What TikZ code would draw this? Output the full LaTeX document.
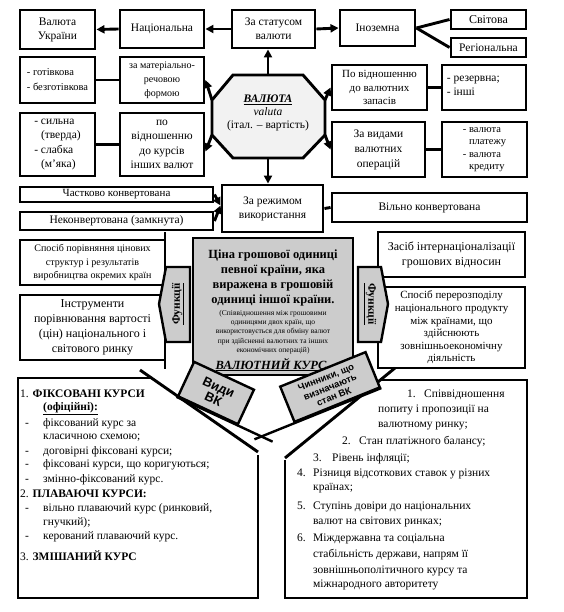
\documentclass[tikz,border=0pt]{standalone}
\usepackage{fontspec}
\setmainfont{Liberation Serif}
\newfontfamily\arl{Liberation Sans}
\usetikzlibrary{arrows.meta,calc}
\definecolor{gfill}{gray}{0.80}
\definecolor{ofill}{gray}{0.95}
\begin{document}
\begin{tikzpicture}[x=1pt,y=-1pt,
 bx/.style={draw, line width=2.9pt, fill=white, inner sep=1pt, align=center, font=\fontsize{11.5}{14}\selectfont},
 ln/.style={line width=2.9pt},
 ar/.style={line width=2.9pt, -{Triangle[length=8pt,width=8pt]}},
 lt/.style={anchor=base west, inner sep=0pt, font=\fontsize{11.5}{13}\selectfont},
 tag/.style={draw, line width=2.4pt, fill=gfill, inner sep=1pt, align=center},
]
\useasboundingbox (0,0) rectangle (563,612);

% ---- top row
\node[bx, minimum width=75pt, minimum height=39pt] (vu) at (57.5,29.5) {Валюта\\України};
\node[bx, minimum width=84pt, minimum height=38pt] (nat) at (162,29) {Національна};
\node[bx, minimum width=83pt, minimum height=38pt] (zs) at (273.5,29) {За статусом\\валюти};
\node[bx, minimum width=75pt, minimum height=36pt] (ino) at (377.5,28) {Іноземна};
\node[bx, minimum width=75pt, minimum height=19pt, font=\fontsize{12}{13}\selectfont] (sv) at (488.5,19.5) {Світова};
\node[bx, minimum width=75pt, minimum height=19pt] (reg) at (488.5,47.5) {Регіональна};

\draw[ar] (nat.west) -- (vu.east);
\draw[ar] (zs.west) -- (nat.east);
\draw[ar] (zs.east) -- (ino.west);
\draw[ln] (ino.east) -- (sv.west);
\draw[ln] (ino.east) -- (reg.west);

% ---- left side
\node[bx, minimum width=75pt, minimum height=46pt, align=left, font=\fontsize{10.5}{15}\selectfont] (gt) at (57.5,80) {- готівкова\\- безготівкова};
\node[bx, minimum width=84pt, minimum height=46pt, font=\fontsize{10}{14}\selectfont] (mat) at (162,80) {за матеріально-\\речовою\\формою};
\node[bx, minimum width=75pt, minimum height=63pt, align=left, font=\fontsize{11.5}{14.5}\selectfont] (sl) at (57.5,144.5) {- сильна\\\phantom{- }(тверда)\\- слабка\\\phantom{- }(м'яка)};
\node[bx, minimum width=84pt, minimum height=63pt, font=\fontsize{11.5}{14.5}\selectfont] (pv) at (162,144.5) {по\\відношенню\\до курсів\\інших валют};
\draw[ln] (gt.east) -- (mat.west);
\draw[ln] (sl.east) -- (pv.west);

% ---- right side
\node[bx, minimum width=95pt, minimum height=45pt, font=\fontsize{11}{13.5}\selectfont] (pvz) at (379.5,87.5) {По відношенню\\до валютних\\запасів};
\node[bx, minimum width=84pt, minimum height=45pt, align=left, font=\fontsize{11.5}{14}\selectfont] (rez) at (484,87.5) {- резервна;\\- інші\phantom{резервна;}};
\node[bx, minimum width=93pt, minimum height=55pt, font=\fontsize{11.5}{15}\selectfont] (zv) at (378.5,149.5) {За видами\\валютних\\операцій};
\node[bx, minimum width=85pt, minimum height=55pt, align=left, font=\fontsize{10.5}{12.5}\selectfont] (vp) at (484.5,149.5) {- валюта\\\phantom{- }платежу\\- валюта\\\phantom{- }кредиту};
\draw[ln] (pvz.east) -- (rez.west);
\draw[ln] (zv.east) -- (vp.west);

% ---- octagon
\coordinate (o1) at (233,75);
\coordinate (o2) at (303,75);
\coordinate (o3) at (325,100);
\coordinate (o4) at (325,135);
\coordinate (o5) at (303,158);
\coordinate (o6) at (233,158);
\coordinate (o7) at (212,135);
\coordinate (o8) at (212,100);
\coordinate (otop) at (268,75);
\coordinate (obot) at (268,158);
\draw[line width=2.9pt, fill=ofill] (o1)--(o2)--(o3)--(o4)--(o5)--(o6)--(o7)--(o8)--cycle;
\node[align=center, inner sep=0pt, font=\fontsize{11.5}{13}\selectfont] (val) at (268,113)
  {\textbf{\textit{\underline{ВАЛЮТА}}}\\\textit{valuta}\\(італ. – вартість)};

% ---- usage regime
\node[bx, minimum width=101pt, minimum height=47pt] (zr) at (272.5,208.5) {За режимом\\використання};
\node[bx, minimum width=193pt, minimum height=15pt, inner sep=0pt, font=\fontsize{11}{12}\selectfont] (chk) at (116.5,194.5) {Частково конвертована};
\node[bx, minimum width=193pt, minimum height=18pt, inner sep=0pt, font=\fontsize{11.5}{12}\selectfont] (nk) at (116.5,221) {Неконвертована (замкнута)};
\node[bx, minimum width=195pt, minimum height=29pt] (vil) at (429.5,207.5) {Вільно конвертована};
\coordinate (zrin) at ($(zr.west)+(0,-3)$);

\draw[ar] (otop) -- (otop |- zs.south);
\draw[ar] (obot) -- (obot |- zr.north);
\draw[ar] (o8) -- (mat.east);
\draw[ar] (o7) -- ($(pv.east)+(0,7)$);
\draw[ar] (o3) -- (pvz.west);
\draw[ar] (o4) -- (zv.west);
\draw[ar] (chk.east) -- (zrin);
\draw[ar] (nk.east) -- (zrin);
\draw[ln] (zr.east) -- (vil.west);

% ---- functions
\node[bx, minimum width=145pt, minimum height=45pt, font=\fontsize{10}{13.5}\selectfont] (sp) at (92.5,262.5) {Спосіб порівняння цінових\\структур і результатів\\виробництва окремих країн};
\node[bx, minimum width=145pt, minimum height=65pt, font=\fontsize{12}{15}\selectfont] (ins) at (92.5,327.5) {Інструменти\\порівнювання вартості\\(цін) національного і\\світового ринку};
\node[bx, minimum width=147pt, minimum height=45pt, font=\fontsize{12}{15}\selectfont] (zi) at (451.5,254.5) {Засіб інтернаціоналізації\\грошових відносин};
\node[bx, minimum width=147pt, minimum height=81pt, inner sep=0pt, font=\fontsize{11}{12.6}\selectfont] (sper) at (451.5,327.5) {Спосіб перерозподілу\\національного продукту\\між країнами, що\\здійснюють\\зовнішньоекономічну\\діяльність};
\draw[ln] (165,232) -- (165,369);
\draw[ln] (378,277) -- (378,287);

\draw[line width=2.4pt, fill=gfill] (190,267)--(166,267)--(159,304)--(166,342)--(190,342)--cycle;
\node[rotate=90, inner sep=0pt, font=\bfseries\fontsize{11.5}{12}\selectfont] (fl) at (178,304) {\underline{Функції}};
\draw[line width=2.4pt, fill=gfill] (358,267)--(381,267)--(388,304)--(381,342)--(358,342)--cycle;
\node[rotate=-90, inner sep=0pt, font=\bfseries\fontsize{11.5}{12}\selectfont] (fr) at (370,304) {\underline{Функції}};

% ---- central box
\node[draw, line width=2.9pt, fill=gfill, minimum width=160pt, minimum height=137pt] (cb) at (273,306.5) {};
\node[align=center, inner sep=0pt, font=\bfseries\fontsize{12.5}{15}\selectfont] (cbt) at (273,278) {Ціна грошової одиниці\\певної країни, яка\\виражена в грошовій\\одиниці іншої країни.};
\node[align=center, inner sep=0pt, font=\fontsize{7.5}{9.3}\selectfont] (cbs) at (273,332) {(Співвідношення між грошовими\\одиницями двох країн, що\\використовується для обміну валют\\при здійсненні валютних та інших\\економічних операцій)};
\node[anchor=base, inner sep=0pt, font=\bfseries\itshape\fontsize{12.5}{14}\selectfont] (cbk) at (271,369) {\underline{ВАЛЮТНИЙ КУРС}};

% ---- bottom boxes
\draw[ln] (151,378) -- (18,378) -- (18,598) -- (258,598) -- (258,455);
\draw[ln] (140,370) -- (258,452);
\draw[ln] (380,380) -- (527,380) -- (527,598) -- (285,598) -- (285,460);
\draw[ln] (395,368) -- (285,458);

\node[tag, rotate=-25, minimum width=66pt, minimum height=38pt, font=\arl\bfseries\fontsize{13}{13}\selectfont] (vid) at (216,393) {Види\\ВК};
\node[tag, rotate=22, minimum width=92pt, minimum height=38pt, font=\arl\bfseries\fontsize{9.5}{10.5}\selectfont] (chn) at (330,387) {Чинники, що\\визначають\\стан ВК};
\draw[line width=2.4pt] (vid.south west) -- ($(vid.south west)!1.55!(vid.south east)$);
\draw[line width=2.4pt] (chn.south east) -- ($(chn.south east)!1.45!(chn.south west)$);

% ---- left list
\node[lt] (a1) at (20,397) {1. \textbf{ФІКСОВАНІ КУРСИ}};
\node[lt] (a2) at (43,410) {\textbf{\underline{(офіційні):}}};
\node[lt] (a3) at (25,426) {-};
\node[lt] (a4) at (43,426) {фіксований курс за};
\node[lt] (a5) at (43,439) {класичною схемою;};
\node[lt] (a6) at (25,454) {-};
\node[lt] (a7) at (43,454) {договірні фіксовані курси;};
\node[lt] (a8) at (25,467) {-};
\node[lt] (a9) at (43,467) {фіксовані курси, що коригуються;};
\node[lt] (a10) at (25,482) {-};
\node[lt] (a11) at (43,482) {змінно-фіксований курс.};
\node[lt] (a12) at (20,497) {2. \textbf{ПЛАВАЮЧІ КУРСИ:}};
\node[lt] (a13) at (25,511) {-};
\node[lt] (a14) at (43,511) {вільно плаваючий курс (ринковий,};
\node[lt] (a15) at (43,525) {гнучкий);};
\node[lt] (a16) at (25,539) {-};
\node[lt] (a17) at (43,539) {керований плаваючий курс.};
\node[lt] (a18) at (20,560) {3. \textbf{ЗМІШАНИЙ КУРС}};

% ---- right list
\node[lt] (b1) at (407,397) {1.};
\node[lt] (b2) at (424,397) {Співвідношення};
\node[lt] (b3) at (378,412) {попиту і пропозиції на};
\node[lt] (b4) at (378,427) {валютному ринку;};
\node[lt] (b5) at (342,444) {2.};
\node[lt] (b6) at (359,444) {Стан платіжного балансу;};
\node[lt] (b7) at (313,461) {3.};
\node[lt] (b8) at (332,461) {Рівень інфляції;};
\node[lt] (b9) at (297,476) {4.};
\node[lt] (b10) at (313,476) {Різниця відсоткових ставок у різних};
\node[lt] (b11) at (313,490) {країнах;};
\node[lt] (b12) at (297,509) {5.};
\node[lt] (b13) at (313,509) {Ступінь довіри до національних};
\node[lt] (b14) at (313,524) {валют на світових ринках;};
\node[lt] (b15) at (297,541) {6.};
\node[lt] (b16) at (313,541) {Міждержавна та соціальна};
\node[lt] (b17) at (313,557) {стабільність держави, напрям її};
\node[lt] (b18) at (313,573) {зовнішньополітичного курсу та};
\node[lt] (b19) at (313,587) {міжнародного авторитету};
\end{tikzpicture}
\end{document}
